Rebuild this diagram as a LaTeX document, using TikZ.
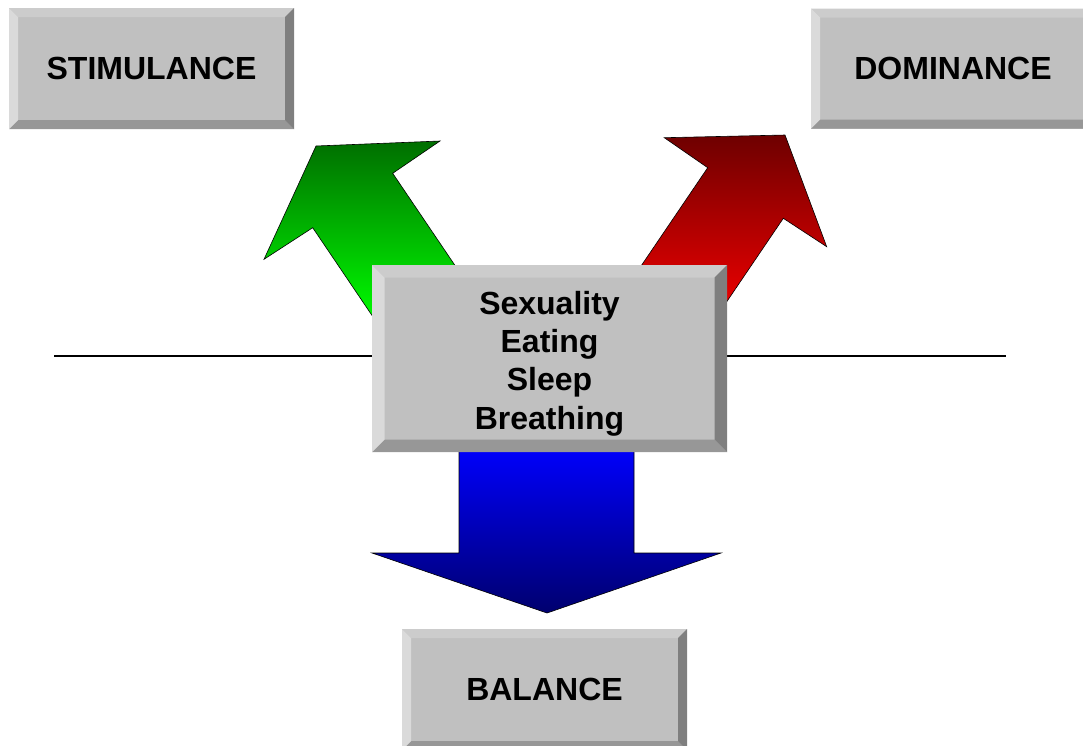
\documentclass[tikz,border=0pt]{standalone}
\usepackage{fontspec}
\setmainfont{Liberation Sans}
\definecolor{face}{HTML}{C0C0C0}
\definecolor{bvtop}{HTML}{CCCCCC}
\definecolor{bvleft}{HTML}{DADADA}
\definecolor{bvright}{HTML}{7F7F7F}
\definecolor{bvbottom}{HTML}{979797}
\definecolor{gdark}{RGB}{0,110,0}
\definecolor{gbright}{RGB}{0,255,0}
\definecolor{rdark}{RGB}{110,0,0}
\definecolor{rbright}{RGB}{255,0,0}
\definecolor{bbright}{RGB}{0,0,255}
\definecolor{bdark}{RGB}{0,0,110}
\tikzset{
  bw/.code={\def\bw{#1}},
  bw=9,
  bevelbox/.style={rectangle, fill=face, inner sep=0pt, outer sep=0pt,
    font=\bfseries\fontsize{32}{38.3}\selectfont, align=center,
    path picture={
      \fill[bvtop] (path picture bounding box.north west) -- (path picture bounding box.north east)
        -- ([shift={(-\bw pt,-\bw pt)}]path picture bounding box.north east)
        -- ([shift={(\bw pt,-\bw pt)}]path picture bounding box.north west) -- cycle;
      \fill[bvbottom] (path picture bounding box.south west) -- (path picture bounding box.south east)
        -- ([shift={(-\bw pt,\bw pt)}]path picture bounding box.south east)
        -- ([shift={(\bw pt,\bw pt)}]path picture bounding box.south west) -- cycle;
      \fill[bvleft] (path picture bounding box.north west) -- (path picture bounding box.south west)
        -- ([shift={(\bw pt,\bw pt)}]path picture bounding box.south west)
        -- ([shift={(\bw pt,-\bw pt)}]path picture bounding box.north west) -- cycle;
      \fill[bvright] (path picture bounding box.north east) -- (path picture bounding box.south east)
        -- ([shift={(-\bw pt,\bw pt)}]path picture bounding box.south east)
        -- ([shift={(-\bw pt,-\bw pt)}]path picture bounding box.north east) -- cycle;
    }},
  blockarrow/.style={draw=black, line width=0.6pt, line join=miter},
  baseline/.style={draw=black, line width=2pt}
}
\begin{document}
\begin{tikzpicture}[x=1pt, y=-1pt]
\useasboundingbox (0,0) rectangle (1083,745);

% horizontal line (behind everything)
\coordinate (lineL) at (54,356);
\coordinate (lineR) at (1006,356);
\draw[baseline] (lineL) -- (lineR);

% green arrow (up-left)
\shade[blockarrow, top color=gdark, bottom color=gbright]
  (377.6,323.7) -- (312.7,227.7) -- (264,259.3) -- (316,146) -- (440,141)
  -- (392.7,173.3) -- (457.6,269.3) -- cycle;

% red arrow (up-right)
\shade[blockarrow, top color=rdark, bottom color=rbright]
  (628.5,284.5) -- (707.7,167.7) -- (664.3,137.7) -- (785,135) -- (826.7,246.7)
  -- (783.3,218.3) -- (704.1,335.1) -- cycle;

% blue arrow (down)
\shade[blockarrow, top color=bbright, bottom color=bdark]
  (459,445) -- (459,553) -- (372,553) -- (547,613) -- (721,553) -- (634,553)
  -- (634,445) -- cycle;

% boxes
\node[bevelbox, bw=9, minimum width=285pt, minimum height=121pt] (stim) at (151.5,68.5) {STIMULANCE};
\node[bevelbox, bw=9, minimum width=284pt, minimum height=120pt] (dom) at (953,68.5) {DOMINANCE};
\node[bevelbox, bw=9, minimum width=285pt, minimum height=121pt] (bal) at (544.5,689.5) {BALANCE};
\node[bevelbox, bw=12.5, minimum width=355pt, minimum height=187pt] (core) at (549.5,358.5)
  {\rule{0pt}{33pt}Sexuality\\Eating\\Sleep\\Breathing};
\end{tikzpicture}
\end{document}
